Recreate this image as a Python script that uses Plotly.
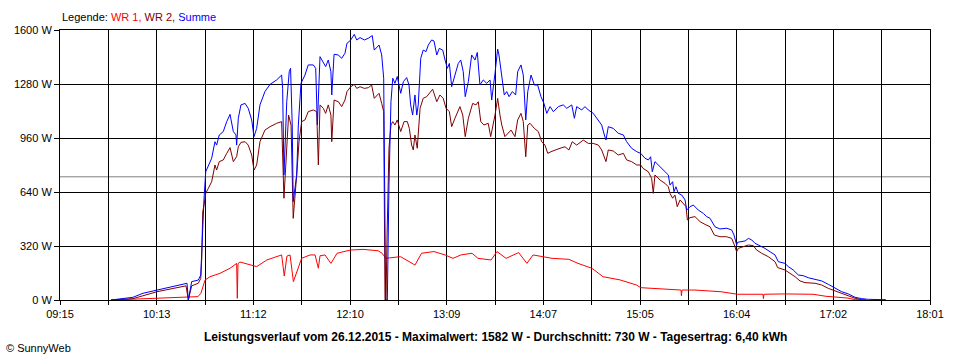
import plotly.graph_objects as go

# ---------------- data ----------------
t_summe = ["09:45:48","09:59:06","10:05:12","10:13:36","10:23:18","10:31:48","10:32:36","10:34:36","10:38:36","10:40:06",
 "10:40:42","10:41:18","10:42:06","10:43:06","10:44:42","10:46:42","10:48:42","10:49:42","10:51:18","10:53:42",
 "10:55:48","10:57:48","10:59:48","11:01:24","11:01:48","11:02:48","11:04:24","11:06:54","11:08:48","11:10:54",
 "11:12:18","11:13:54","11:15:54","11:18:54","11:22:00","11:26:00","11:29:00","11:29:36","11:30:24","11:32:06",
 "11:33:36","11:34:24","11:35:24","11:36:00","11:38:06","11:39:06","11:40:42","11:43:06","11:45:06","11:48:06",
 "11:49:36","11:50:36","11:52:12","11:54:12","11:55:36","11:57:12","11:58:48","11:59:18","12:00:42","12:03:18",
 "12:05:18","12:07:18","12:08:30","12:10:48","12:12:54","12:14:24","12:16:24","12:19:00","12:21:24","12:23:48",
 "12:25:00","12:27:54","12:29:30","12:30:42","12:31:30","12:31:54","12:32:54","12:33:54","12:35:06","12:36:12",
 "12:37:30","12:38:54","12:41:00","12:42:36","12:44:36","12:46:00","12:47:00","12:48:12","12:49:36","12:50:42",
 "12:51:36","12:53:06","12:54:36","12:56:18","12:57:42","12:59:42","13:01:06","13:02:48","13:04:18","13:06:24",
 "13:07:48","13:09:12","13:10:24","13:11:48","13:13:48","13:15:48","13:17:18","13:18:48","13:20:00","13:21:54",
 "13:23:54","13:25:54","13:27:18","13:28:54","13:30:54","13:33:00","13:35:00","13:36:00","13:38:00","13:39:36",
 "13:40:24","13:42:06","13:43:36","13:45:06","13:46:30","13:48:30","13:50:30","13:51:42","13:53:42","13:55:06",
 "13:56:36","13:57:48","13:59:48","14:01:48","14:03:48","14:05:48","14:07:36","14:09:18","14:11:18","14:13:18",
 "14:16:18","14:19:18","14:21:24","14:24:24","14:26:00","14:27:24","14:30:24","14:32:24","14:34:24","14:37:24",
 "14:40:30","14:42:30","14:44:06","14:45:06","14:46:30","14:49:30","14:52:30","14:55:36","14:57:36","15:00:36",
 "15:03:42","15:06:06","15:08:42","15:10:42","15:12:06","15:13:06","15:14:42","15:17:48","15:20:48","15:22:48",
 "15:23:48","15:25:24","15:26:12","15:27:24","15:28:48","15:30:54","15:32:54","15:33:54","15:35:54","15:37:54",
 "15:40:54","15:44:00","15:46:00","15:48:00","15:51:00","15:54:00","15:58:06","16:01:06","16:02:30","16:04:06",
 "16:04:42","16:07:06","16:09:12","16:11:12","16:13:12","16:15:12","16:18:12","16:21:12","16:24:18","16:27:18",
 "16:29:18","16:33:18","16:35:18","16:38:18","16:41:24","16:44:24","16:47:24","16:51:30","16:55:30","16:59:30",
 "17:03:36","17:07:36","17:11:36","17:15:42","17:19:42","17:23:42","17:33:48","17:34:24"]
summe = [0,16,40,59,79,99,0,109,118,148,
 286,444,603,760,800,840,938,918,978,998,
 1057,1100,998,978,918,1077,1156,1165,1136,1067,
 968,1017,1156,1235,1278,1304,1333,1254,741,1175,
 1353,1373,1037,583,741,1037,1284,1333,1393,1393,
 1373,1037,1442,1412,1383,1422,1353,1215,1456,1452,
 1432,1462,1521,1541,1574,1541,1555,1541,1551,1567,
 1481,1511,1452,1314,642,0,0,681,1175,1314,
 1284,1324,1225,1294,1318,1274,1156,1096,1215,1096,
 1156,1432,1481,1472,1511,1541,1535,1452,1491,1481,
 1422,1373,1402,1264,1333,1402,1422,1353,1205,1294,
 1452,1422,1467,1274,1304,1284,1304,1185,1343,1487,
 1452,1314,1215,1235,1205,1235,1215,1353,1393,1333,
 1067,1235,1333,1274,1274,1205,1165,1106,1146,1116,
 1146,1156,1136,1156,1077,1146,1126,1146,1126,1106,
 1067,1037,978,948,1027,1017,988,978,938,899,
 879,869,840,830,849,760,820,790,760,741,
 681,701,642,671,632,622,593,533,553,563,
 533,513,494,484,434,421,425,415,385,326,
 342,346,350,365,356,336,322,306,286,267,
 227,217,198,178,148,144,132,124,113,93,
 69,49,36,16,8,4,2,0]

t_wr2 = ["09:45:48","09:59:06","10:13:36","10:27:36","10:31:12","10:32:36","10:34:36","10:38:36","10:40:06","10:40:42",
 "10:41:18","10:42:06","10:43:06","10:44:42","10:46:42","10:48:42","10:49:42","10:51:18","10:53:42","10:55:48",
 "10:57:48","10:59:48","11:01:48","11:02:48","11:04:24","11:06:54","11:08:48","11:10:54","11:12:18","11:13:54",
 "11:15:54","11:18:54","11:22:00","11:26:00","11:29:00","11:30:24","11:32:06","11:33:12","11:34:42","11:36:00",
 "11:38:06","11:39:30","11:41:06","11:43:06","11:45:06","11:48:06","11:50:12","11:51:12","11:52:12","11:54:12",
 "11:55:36","11:57:12","11:58:48","11:59:18","12:00:42","12:03:18","12:05:18","12:07:18","12:08:30","12:10:48",
 "12:12:54","12:14:24","12:16:24","12:19:00","12:21:24","12:23:24","12:25:00","12:27:54","12:29:30","12:30:42",
 "12:31:30","12:32:06","12:32:42","12:33:54","12:35:06","12:36:12","12:37:30","12:38:54","12:41:00","12:43:00",
 "12:45:00","12:46:12","12:47:36","12:48:36","12:49:36","12:51:00","12:52:42","12:54:36","12:56:42","12:58:18",
 "13:00:18","13:02:48","13:04:42","13:06:42","13:08:24","13:10:24","13:11:48","13:13:48","13:16:48","13:18:30",
 "13:20:00","13:21:54","13:24:30","13:26:30","13:27:54","13:29:24","13:31:18","13:33:54","13:35:24","13:38:00",
 "13:39:36","13:41:00","13:42:06","13:44:00","13:46:00","13:47:42","13:50:06","13:51:42","13:53:42","13:55:06",
 "13:56:36","13:57:48","13:59:12","14:01:48","14:04:12","14:06:12","14:08:12","14:09:54","14:11:54","14:14:18",
 "14:17:18","14:20:18","14:22:42","14:24:42","14:27:24","14:31:24","14:34:24","14:37:24","14:40:30","14:42:30",
 "14:44:06","14:45:06","14:46:30","14:49:30","14:52:30","14:55:36","14:57:36","15:00:36","15:03:42","15:06:06",
 "15:07:30","15:10:42","15:12:42","15:13:42","15:14:42","15:17:48","15:20:48","15:22:48","15:23:48","15:25:24",
 "15:26:48","15:28:12","15:29:54","15:31:48","15:33:30","15:34:18","15:35:54","15:38:54","15:42:00","15:45:00",
 "15:48:00","15:50:36","15:54:00","15:58:06","16:01:06","16:02:42","16:04:06","16:05:06","16:08:06","16:11:12",
 "16:14:12","16:16:12","16:19:12","16:23:12","16:27:18","16:28:54","16:33:18","16:36:24","16:39:24","16:42:24",
 "16:45:24","16:51:30","16:55:30","16:59:30","17:03:36","17:07:36","17:11:36","17:15:42","17:19:42","17:22:18"]
wr2 = [0,8,49,79,84,0,84,99,128,247,
 523,563,632,662,701,800,770,820,830,869,
 903,820,850,908,934,938,918,859,770,800,
 938,1007,1027,1047,1057,603,879,1096,1037,484,
 741,938,1057,1067,1116,1126,1116,800,1156,1136,
 1106,1156,1096,938,1185,1175,1146,1185,1235,1264,
 1278,1254,1264,1254,1258,1274,1195,1225,1165,1116,
 0,0,365,899,1037,1057,1037,1067,998,1057,
 1057,1017,918,889,978,899,1136,1195,1205,1225,
 1249,1175,1215,1195,1136,1116,1027,1077,1146,1096,
 968,1077,1165,1156,1175,1057,1037,1047,968,1096,
 1195,1096,1037,968,988,1007,968,1067,1106,1057,
 849,1037,1047,1017,998,938,918,869,879,889,
 899,908,889,938,918,948,928,928,918,889,
 840,820,889,883,859,869,830,820,800,800,
 780,760,721,632,741,711,691,671,632,603,
 622,553,593,573,553,474,488,494,464,448,
 434,385,375,375,365,326,286,306,316,326,
 322,296,277,257,227,192,178,158,138,113,
 103,99,89,69,53,38,22,10,2,0]

t_wr1 = ["09:45:48","10:01:36","10:20:18","10:38:24","10:40:12","10:42:42","10:45:42","10:51:42","10:57:48","11:01:48",
 "11:02:12","11:02:36","11:03:48","11:11:42","11:13:54","11:20:00","11:29:00","11:30:36","11:32:12","11:34:06",
 "11:36:06","11:41:06","11:46:12","11:49:12","11:51:12","11:52:12","11:55:12","11:58:48","12:02:30","12:10:36",
 "12:18:12","12:27:18","12:29:42","12:32:06","12:40:54","12:47:12","12:49:36","12:53:36","13:01:06","13:07:48",
 "13:12:36","13:17:24","13:24:06","13:27:42","13:35:36","13:39:12","13:44:42","13:52:18","13:57:18","14:01:00",
 "14:07:00","14:12:30","14:22:42","14:28:12","14:36:36","14:43:18","14:53:36","15:03:30","15:06:06","15:21:24",
 "15:30:30","15:30:42","15:31:06","15:38:54","15:54:36","16:04:36","16:20:00","16:20:18","16:20:36","16:32:42",
 "16:50:18","16:58:06","17:10:48","17:15:54","17:22:18"]
wr1 = [0,7,16,20,40,118,138,158,188,217,
 10,215,225,207,198,237,267,142,260,267,
 109,247,267,267,188,262,267,217,277,296,
 300,292,277,247,257,221,207,277,287,267,
 247,267,277,247,237,287,247,281,217,267,
 257,247,241,217,188,138,119,89,73,63,
 59,25,59,59,49,34,34,8,34,36,
 34,22,12,2,0]

average_w = 730
y_ticks = [0, 320, 640, 960, 1280, 1600]
x_tick_labels = ["09:15", "10:13", "11:12", "12:10", "13:09", "14:07", "15:05", "16:04", "17:02", "18:01"]
title_text = ("Leistungsverlauf vom 26.12.2015 - Maximalwert: 1582 W - "
              "Durchschnitt: 730 W - Tagesertrag: 6,40 kWh")


def to_min(s):
    p = [int(v) for v in s.split(":")]
    return p[0] * 60 + p[1] + (p[2] / 60 if len(p) > 2 else 0)


x_start = to_min(x_tick_labels[0])
x_end = to_min(x_tick_labels[-1])
step = (x_end - x_start) / (len(x_tick_labels) - 1)
tickvals = [x_start + i * step for i in range(len(x_tick_labels))]

FONT = "Liberation Sans, Arial, sans-serif"
fig = go.Figure()

fig.add_trace(go.Scatter(x=[to_min(t) for t in t_wr1], y=wr1, mode="lines",
                         line=dict(color="#ff0000", width=1), name="WR 1"))
fig.add_trace(go.Scatter(x=[to_min(t) for t in t_wr2], y=wr2, mode="lines",
                         line=dict(color="#800000", width=1), name="WR 2"))
fig.add_trace(go.Scatter(x=[to_min(t) for t in t_summe], y=summe, mode="lines",
                         line=dict(color="#0000ff", width=1), name="Summe"))

fig.add_shape(type="line", xref="paper", x0=0, x1=1, yref="y", y0=average_w, y1=average_w,
              line=dict(color="#808080", width=1), layer="below")

fig.update_layout(
    width=960, height=360,
    margin=dict(l=60, r=30, t=30, b=60),
    paper_bgcolor="white", plot_bgcolor="white",
    showlegend=False,
    font=dict(family=FONT, size=11, color="black"),
    xaxis=dict(range=[x_start, x_end], tickmode="array", tickvals=tickvals,
               ticktext=x_tick_labels, showgrid=True, gridcolor="black", gridwidth=1,
               showline=True, linecolor="black", linewidth=1, mirror=True,
               ticks="outside", ticklen=4, tickcolor="black", zeroline=False,
               minor=dict(tick0=x_start, dtick=step / 2, showgrid=True, gridcolor="black",
                          gridwidth=1, ticks="outside", ticklen=4, tickcolor="black"),
               tickfont=dict(size=11)),
    yaxis=dict(range=[0, 1600], tickmode="array", tickvals=y_ticks,
               ticktext=[f"{v} W" for v in y_ticks], showgrid=True, gridcolor="black",
               gridwidth=1, showline=True, linecolor="black", linewidth=1, mirror=True,
               ticks="outside", ticklen=5, tickcolor="black", zeroline=False,
               tickfont=dict(size=11)),
)

fig.add_annotation(xref="paper", yref="paper", x=0, y=1.0, yshift=13, xanchor="left",
                   yanchor="middle", showarrow=False, font=dict(size=11, family=FONT),
                   text="Legende: <span style='color:#ff0000'>WR 1,</span> "
                        "<span style='color:#800000'>WR 2,</span> "
                        "<span style='color:#0000ff'>Summe</span>")
fig.add_annotation(xref="paper", yref="paper", x=0.5, y=0, yshift=-37, xanchor="center",
                   yanchor="middle", showarrow=False,
                   font=dict(size=12, family=FONT, color="black"),
                   text=f"<b>{title_text}</b>")
fig.add_annotation(xref="paper", yref="paper", x=0, xshift=-56, y=0, yshift=-48,
                   xanchor="left", yanchor="middle", showarrow=False,
                   font=dict(size=11, family=FONT), text="© SunnyWeb")

fig.write_html("out.html", config={"displayModeBar": False},
               post_script="document.body.style.margin='0';document.body.style.overflow='hidden';")
